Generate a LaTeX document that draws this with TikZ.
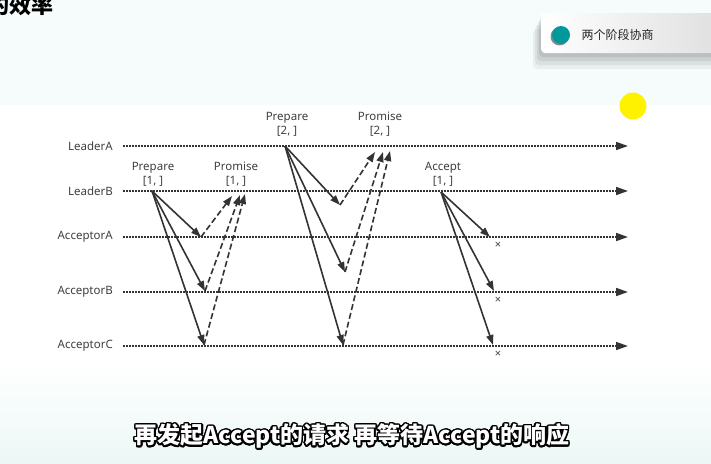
\documentclass[tikz,border=0pt]{standalone}
\usepackage{fontspec}
\setmainfont{Noto Sans}
\newfontfamily\cjk{Noto Sans CJK SC}
\usepackage{contour}
\contourlength{1.4pt}
\contournumber{24}
\usetikzlibrary{arrows.meta, shadows}

\definecolor{pagebg}{HTML}{F6FCFC}
\definecolor{pagelow}{HTML}{ECF8F6}
\definecolor{inkgray}{HTML}{333333}
\definecolor{labelgray}{HTML}{404040}
\definecolor{tealdot}{HTML}{00989B}
\definecolor{sun}{HTML}{FFF200}

\begin{document}
\begin{tikzpicture}[
  x=1pt, y=-1pt,
  every node/.style={font=\fontsize{11.5}{14}\selectfont, text=labelgray},
  actor/.style={anchor=east, inner sep=0pt},
  msglabel/.style={align=center, inner sep=0pt},
  timeline/.style={line width=1.6pt, inkgray, dash pattern=on 1.5pt off 1.5pt, -{Triangle[length=12pt, width=8pt]}},
  request/.style={line width=1.6pt, inkgray, -{Triangle[length=10pt, width=7pt]}},
  reply/.style={request, dash pattern=on 6pt off 3pt},
  lost/.style={inner sep=0pt, font=\fontsize{11}{11}\selectfont},
  tagbox/.style={minimum width=190pt, minimum height=40pt, rounded corners=4pt, left color=white, right color=black!13,
    drop shadow={shadow xshift=-8pt, shadow yshift=-16pt, opacity=.05, fill=black},
    drop shadow={shadow xshift=-6pt, shadow yshift=-12pt, opacity=.06, fill=black},
    drop shadow={shadow xshift=-4pt, shadow yshift=-8pt, opacity=.07, fill=black},
    drop shadow={shadow xshift=-2pt, shadow yshift=-4pt, opacity=.08, fill=black}}
]

% Background
\useasboundingbox (0,0) rectangle (711,463);
\clip (0,0) rectangle (711,463);
\fill[pagebg] (0,0) rectangle (711,463);
\shade[top color=white, bottom color=pagelow] (0,362) rectangle (711,463);
\fill[white] (0,105) rectangle (711,362);

% Title
\node[anchor=base west, inner sep=0pt, font=\cjk\bfseries\fontsize{22}{22}\selectfont, text=black] (title) at (-13,13) {的效率};

% Phase tag
\node[tagbox, anchor=north west] (phasebox) at (541,13) {};
\node[circle, fill=tealdot, minimum size=18pt, inner sep=0pt,
  drop shadow={shadow xshift=-1.5pt, shadow yshift=-1.5pt, opacity=.45, fill=black}] (phasedot) at (561,35) {};
\node[anchor=west, font=\cjk\fontsize{12}{12}\selectfont, text=black!85] (phasetext) at (578,35) {两个阶段协商};
\node[circle, fill=sun, minimum size=27pt, inner sep=0pt] (cursor) at (633,106) {};

% Actors
\node[actor] (leaderA) at (113,146) {LeaderA};
\node[actor] (leaderB) at (113,191) {LeaderB};
\node[actor] (acceptorA) at (113,237) {AcceptorA};
\node[actor] (acceptorB) at (113,292) {AcceptorB};
\node[actor] (acceptorC) at (113,346) {AcceptorC};

\coordinate (endA) at (628,146);
\coordinate (endB) at (628,191);
\coordinate (endC) at (628,237);
\coordinate (endD) at (628,292);
\coordinate (endE) at (628,346);

\draw[timeline] ([xshift=10pt]leaderA.east) -- (endA);
\draw[timeline] ([xshift=10pt]leaderB.east) -- (endB);
\draw[timeline] ([xshift=10pt]acceptorA.east) -- (endC);
\draw[timeline] ([xshift=10pt]acceptorB.east) -- (endD);
\draw[timeline] ([xshift=10pt]acceptorC.east) -- (endE);

% Round 1: LeaderB
\node[msglabel] (prepare1) at (153,174) {Prepare\\{[1, ]}};
\node[msglabel] (promise1) at (236,174) {Promise\\{[1, ]}};
\coordinate (p1) at (152,191);
\coordinate (p1a) at (201,237);
\coordinate (p1b) at (205,291);
\coordinate (p1c) at (204,345);
\coordinate (q1a) at (232,196);
\coordinate (q1b) at (240,195);
\coordinate (q1c) at (245,194);
\draw[request] (p1) -- (p1a);
\draw[request] (p1) -- (p1b);
\draw[request] (p1) -- (p1c);
\draw[reply] (p1a) -- (q1a);
\draw[reply] (p1b) -- (q1b);
\draw[reply] (p1c) -- (q1c);

% Round 2: LeaderA
\node[msglabel] (prepare2) at (287,124) {Prepare\\{[2, ]}};
\node[msglabel] (promise2) at (380,124) {Promise\\{[2, ]}};
\coordinate (p2) at (285,146);
\coordinate (p2a) at (340,205);
\coordinate (p2b) at (345,272);
\coordinate (p2c) at (343,345);
\coordinate (q2a) at (375,152);
\coordinate (q2b) at (383,152);
\coordinate (q2c) at (390,151);
\draw[request] (p2) -- (p2a);
\draw[request] (p2) -- (p2b);
\draw[request] (p2) -- (p2c);
\draw[reply] (p2a) -- (q2a);
\draw[reply] (p2b) -- (q2b);
\draw[reply] (p2c) -- (q2c);

% Round 3: LeaderB accepts
\node[msglabel] (accept1) at (443,174) {Accept\\{[1, ]}};
\coordinate (p3) at (441,192);
\coordinate (p3a) at (490,237);
\coordinate (p3b) at (494,291);
\coordinate (p3c) at (493,345);
\draw[request] (p3) -- (p3a);
\draw[request] (p3) -- (p3b);
\draw[request] (p3) -- (p3c);
\node[lost] (lostA) at (498,245) {×};
\node[lost] (lostB) at (498,300) {×};
\node[lost] (lostC) at (498,354) {×};

% Subtitle
\node[inner sep=0pt, font=\cjk\bfseries\fontsize{23}{23}\selectfont, text=white] (subtitle) at (352,437)
  {\contour{black}{再发起Accept的请求 再等待Accept的响应}};

\end{tikzpicture}
\end{document}
